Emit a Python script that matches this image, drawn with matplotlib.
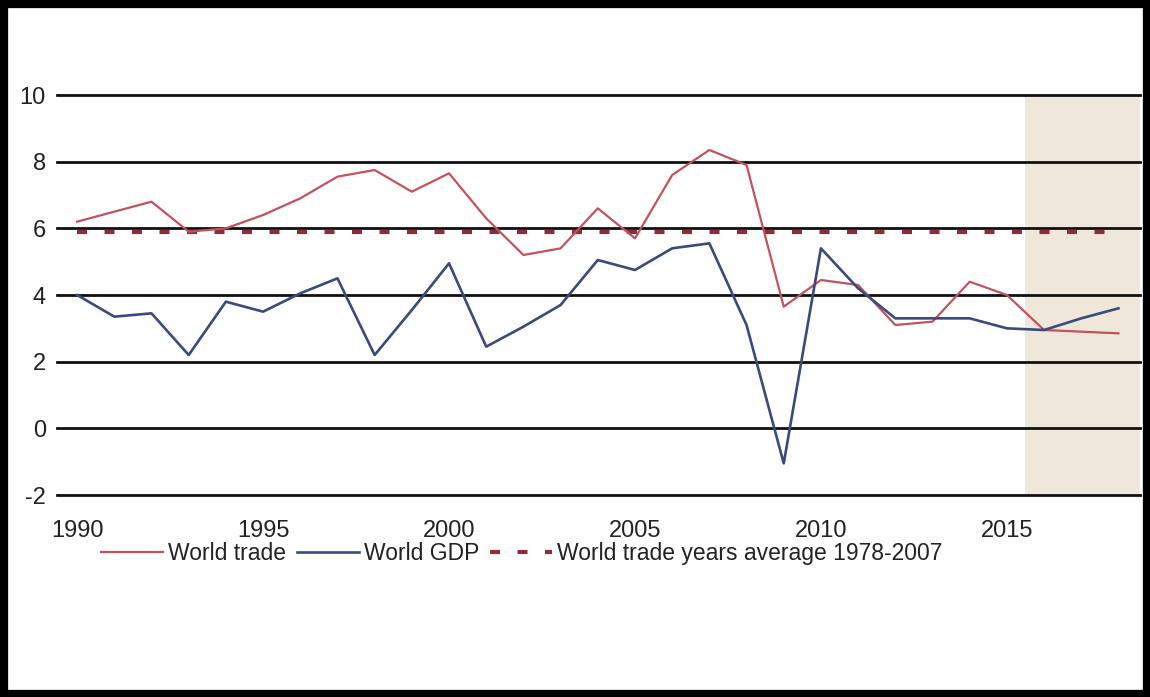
import matplotlib
matplotlib.use('Agg')
import matplotlib.pyplot as plt
from matplotlib.patches import Rectangle

# annual growth, %
years = list(range(1990, 2019))
world_trade = [6.2, 6.5, 6.8, 5.9, 6.0, 6.4, 6.9, 7.55, 7.75, 7.1,
               7.65, 6.3, 5.2, 5.4, 6.6, 5.7, 7.6, 8.35, 7.9, 3.65,
               4.45, 4.3, 3.1, 3.2, 4.4, 4.0, 2.95, 2.9, 2.85]
world_gdp = [4.0, 3.35, 3.45, 2.2, 3.8, 3.5, 4.05, 4.5, 2.2, 3.55,
             4.95, 2.45, 3.05, 3.7, 5.05, 4.75, 5.4, 5.55, 3.1, -1.05,
             5.4, 4.2, 3.3, 3.3, 3.3, 3.0, 2.95, 3.3, 3.6]
trade_avg = 5.9
avg_span = [1990, 2018]
forecast_span = [2015.5, 2018.6]

y_ticks = [-2, 0, 2, 4, 6, 8, 10]
x_ticks = [1990, 1995, 2000, 2005, 2010, 2015]

plt.rcParams['font.family'] = ['Liberation Sans', 'DejaVu Sans']
plt.rcParams['axes.unicode_minus'] = False

fig = plt.figure(figsize=(11.5, 6.97), dpi=100)
ax = fig.add_axes([0.0496, 0.2898, 0.9414, 0.5739])

ax.axvspan(forecast_span[0], forecast_span[1], color='#efe8da', lw=0, zorder=0)

for yv in y_ticks:
    ax.axhline(yv, color='#111111', lw=2.0, zorder=1, clip_on=False)

ax.plot(years, world_trade, color='#c4525c', lw=1.6, zorder=3, label='World trade')
ax.plot(years, world_gdp, color='#3a4a7c', lw=1.9, zorder=3, label='World GDP')
ax.plot(avg_span, [trade_avg, trade_avg], color='#8b2e3c', lw=3.0,
        linestyle=(0, (2.4, 4.2)), zorder=2,
        label='World trade years average 1978-2007')

ax.set_xlim(1989.46, 2018.57)
ax.set_ylim(-2, 10)
ax.set_yticks(y_ticks)
ax.set_xticks(x_ticks)
ax.tick_params(axis='both', length=0, labelsize=17, colors='#222222')
ax.tick_params(axis='x', pad=18)
ax.tick_params(axis='y', pad=8)
for s in ax.spines.values():
    s.set_visible(False)

ax.legend(loc='upper left', bbox_to_anchor=(0.08, 0.235),
          bbox_transform=fig.transFigure, ncol=3, frameon=False,
          fontsize=16.5, handlelength=2.7, handletextpad=0.2,
          columnspacing=0.5, borderaxespad=0, labelcolor='#222222')

# black frame around the whole figure
fig.patches.append(Rectangle((0, 0), 1, 1, transform=fig.transFigure,
                             fill=False, ec='black', lw=11, zorder=10))

fig.savefig('out.png', dpi=100)
